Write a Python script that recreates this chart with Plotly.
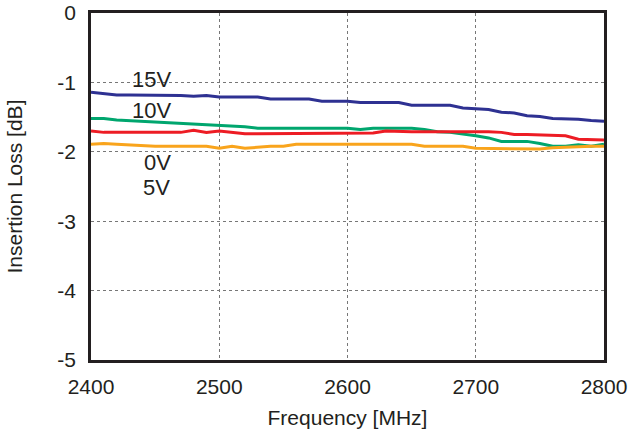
import plotly.graph_objects as go

freq = [2400, 2410, 2420, 2430, 2440, 2450, 2460, 2470, 2480, 2490, 2500, 2510, 2520, 2530,
        2540, 2550, 2560, 2570, 2580, 2590, 2600, 2610, 2620, 2630, 2640, 2650, 2660, 2670,
        2680, 2690, 2700, 2710, 2720, 2730, 2740, 2750, 2760, 2770, 2780, 2790, 2800]

loss_15v = [-1.14, -1.16, -1.18, -1.18, -1.18, -1.18, -1.18, -1.19, -1.20, -1.19, -1.21, -1.21, -1.21, -1.21,
            -1.24, -1.24, -1.24, -1.24, -1.27, -1.27, -1.27, -1.29, -1.29, -1.29, -1.29, -1.33, -1.33, -1.33,
            -1.33, -1.37, -1.38, -1.39, -1.43, -1.44, -1.48, -1.49, -1.52, -1.52, -1.53, -1.55, -1.56]

loss_10v = [-1.52, -1.52, -1.54, -1.55, -1.55, -1.56, -1.57, -1.58, -1.59, -1.60, -1.61, -1.63, -1.64, -1.66,
            -1.66, -1.66, -1.66, -1.66, -1.66, -1.66, -1.66, -1.68, -1.66, -1.66, -1.66, -1.66, -1.68, -1.71,
            -1.72, -1.74, -1.77, -1.80, -1.85, -1.85, -1.85, -1.88, -1.92, -1.92, -1.90, -1.92, -1.89]

loss_0v = [-1.70, -1.72, -1.72, -1.72, -1.72, -1.72, -1.72, -1.72, -1.69, -1.72, -1.70, -1.72, -1.74, -1.74,
           -1.74, -1.74, -1.74, -1.74, -1.74, -1.74, -1.73, -1.73, -1.73, -1.70, -1.71, -1.71, -1.71, -1.71,
           -1.70, -1.70, -1.71, -1.71, -1.72, -1.75, -1.75, -1.76, -1.77, -1.77, -1.82, -1.83, -1.83]

loss_5v = [-1.89, -1.88, -1.89, -1.90, -1.92, -1.92, -1.92, -1.92, -1.92, -1.92, -1.95, -1.92, -1.95, -1.93,
           -1.92, -1.92, -1.89, -1.89, -1.89, -1.89, -1.89, -1.89, -1.89, -1.89, -1.89, -1.89, -1.92, -1.92,
           -1.92, -1.92, -1.95, -1.95, -1.95, -1.95, -1.95, -1.96, -1.94, -1.93, -1.93, -1.92, -1.92]

series = [
    ("15V", loss_15v, "#2E3192"),
    ("10V", loss_10v, "#00A66E"),
    ("0V", loss_0v, "#ED1C24"),
    ("5V", loss_5v, "#F9A41C"),
]

label_text = ["15V", "10V", "0V", "5V"]
label_x = [2447, 2447, 2452, 2451]
label_y = [-0.96, -1.40, -2.15, -2.52]

x_ticks = [2400, 2500, 2600, 2700, 2800]
y_ticks = [0, -1, -2, -3, -4, -5]
y_tick_text = ["0", "-1", "-2", "-3", "-4", "-5"]

FONT = "Liberation Sans, Arial, sans-serif"
INK = "#231F20"

fig = go.Figure()
for name, vals, color in series:
    fig.add_trace(go.Scatter(x=freq, y=vals, mode="lines", name=name,
                             line=dict(color=color, width=3), showlegend=False))

for t, xx, yy in zip(label_text, label_x, label_y):
    fig.add_annotation(x=xx, y=yy, text=t, showarrow=False,
                       font=dict(size=22, color=INK, family=FONT))

axis_common = dict(showline=True, linecolor=INK, linewidth=2.5, mirror=True,
                   showgrid=True, gridcolor="#777777", gridwidth=1, griddash="dot",
                   zeroline=False, ticks="", automargin=False, ticklabeloverflow="allow",
                   tickfont=dict(size=21, color=INK, family=FONT))

fig.update_xaxes(range=[2400, 2800], tickvals=x_ticks, ticklabelstandoff=6,
                 title=dict(text="Frequency [MHz]", standoff=14,
                            font=dict(size=21, color=INK, family=FONT)),
                 **axis_common)
fig.update_yaxes(range=[-5, 0], tickvals=y_ticks, ticktext=y_tick_text, ticklabelstandoff=8,
                 title=dict(text="Insertion Loss [dB]", standoff=30,
                            font=dict(size=21, color=INK, family=FONT)),
                 **axis_common)

fig.update_layout(width=628, height=432, margin=dict(l=91, r=24, t=13, b=72),
                  plot_bgcolor="white", paper_bgcolor="white")

fig.write_html("out.html", config={"displayModeBar": False},
               post_script="document.body.style.margin='0';document.body.style.overflow='hidden';")
